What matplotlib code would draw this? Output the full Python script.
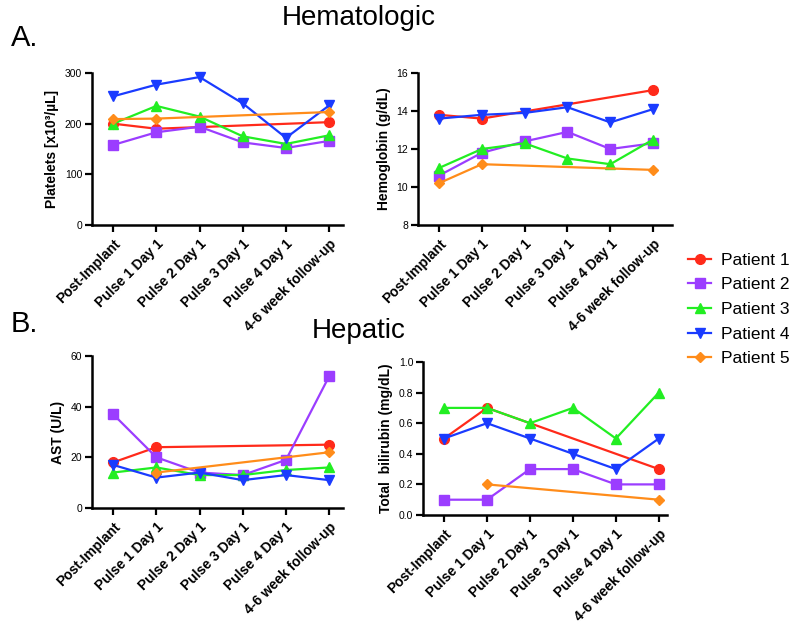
import numpy as np
import matplotlib
matplotlib.use("Agg")
import matplotlib.pyplot as plt

plt.rcParams['font.family'] = ['Liberation Sans', 'DejaVu Sans']

timepoints = ["Post-Implant", "Pulse 1 Day 1", "Pulse 2 Day 1", "Pulse 3 Day 1",
              "Pulse 4 Day 1", "4-6 week follow-up"]
patients = ["Patient 1", "Patient 2", "Patient 3", "Patient 4", "Patient 5"]
nan = np.nan

platelets = {
    "Patient 1": [200, 190, nan, nan, nan, 203],
    "Patient 2": [158, 183, 194, 163, 152, 166],
    "Patient 3": [200, 235, 214, 175, 160, 177],
    "Patient 4": [254, 277, 292, 240, 172, 236],
    "Patient 5": [209, 210, nan, nan, nan, 223],
}
hemoglobin = {
    "Patient 1": [13.8, 13.6, nan, nan, nan, 15.1],
    "Patient 2": [10.6, 11.8, 12.4, 12.9, 12.0, 12.3],
    "Patient 3": [11.0, 12.0, 12.3, 11.5, 11.2, 12.5],
    "Patient 4": [13.6, 13.8, 13.9, 14.2, 13.4, 14.1],
    "Patient 5": [10.2, 11.2, nan, nan, nan, 10.9],
}
ast = {
    "Patient 1": [18, 24, nan, nan, nan, 25],
    "Patient 2": [37, 20, 14, 13, 19, 52],
    "Patient 3": [14, 16, 13, 13, 15, 16],
    "Patient 4": [17, 12, 14, 11, 13, 11],
    "Patient 5": [nan, 14, nan, nan, nan, 22],
}
bilirubin = {
    "Patient 1": [0.5, 0.7, nan, nan, nan, 0.3],
    "Patient 2": [0.1, 0.1, 0.3, 0.3, 0.2, 0.2],
    "Patient 3": [0.7, 0.7, 0.6, 0.7, 0.5, 0.8],
    "Patient 4": [0.5, 0.6, 0.5, 0.4, 0.3, 0.5],
    "Patient 5": [nan, 0.2, nan, nan, nan, 0.1],
}

colors = {"Patient 1": "#FF2A1A", "Patient 2": "#9B3DFF", "Patient 3": "#22EE22",
          "Patient 4": "#1A3BFF", "Patient 5": "#FF8C1A"}
markers = {"Patient 1": ("o", 7), "Patient 2": ("s", 7), "Patient 3": ("^", 7),
           "Patient 4": ("v", 7), "Patient 5": ("D", 5)}

W, H = 795, 623
fig = plt.figure(figsize=(W / 100, H / 100), dpi=100)


def px_axes(l, r, t, b):
    return fig.add_axes([l / W, 1 - b / H, (r - l) / W, (b - t) / H])


def draw(ax, data, ylim, yticks, ylabel, xlim, fmt=None):
    x = np.arange(len(timepoints))
    for p in patients:
        y = np.array(data[p], dtype=float)
        m = ~np.isnan(y)
        mk, ms = markers[p]
        ax.plot(x[m], y[m], color=colors[p], marker=mk, markersize=ms, lw=1.6,
                label=p, clip_on=False, zorder=3)
    ax.set_xlim(*xlim)
    ax.set_ylim(*ylim)
    ax.set_yticks(yticks)
    if fmt:
        ax.set_yticklabels([fmt.format(v) for v in yticks])
    ax.set_xticks(x)
    ax.set_xticklabels(timepoints, rotation=45, ha="right", rotation_mode="anchor",
                       fontweight="bold", fontsize=10)
    for s in ("top", "right"):
        ax.spines[s].set_visible(False)
    for s in ("left", "bottom"):
        ax.spines[s].set_linewidth(1.8)
    ax.tick_params(axis="both", width=1.6, length=5, direction="out")
    ax.tick_params(axis="y", labelsize=7.5, pad=2)
    ax.set_ylabel(ylabel, fontweight="bold", fontsize=10, labelpad=4)


ax1 = px_axes(92, 343, 73, 225)
draw(ax1, platelets, (0, 300), [0, 100, 200, 300], "Platelets [x10³/µL]", (-0.49, 5.32))
ax2 = px_axes(418, 672, 73, 225)
draw(ax2, hemoglobin, (8, 16), [8, 10, 12, 14, 16], "Hemoglobin (g/dL)", (-0.49, 5.44))
ax3 = px_axes(92, 343, 356, 508)
draw(ax3, ast, (0, 60), [0, 20, 40, 60], "AST (U/L)", (-0.49, 5.32))
ax4 = px_axes(423, 667, 362, 515)
draw(ax4, bilirubin, (0, 1.0), [0, 0.2, 0.4, 0.6, 0.8, 1.0], "Total  bilirubin (mg/dL)",
     (-0.49, 5.19), fmt="{:.1f}")

fig.text(359 / W, 1 - 18 / H, "Hematologic", ha="center", va="center", fontsize=20)
fig.text(359 / W, 1 - 331 / H, "Hepatic", ha="center", va="center", fontsize=20)
fig.text(11 / W, 1 - 38 / H, "A.", ha="left", va="center", fontsize=21)
fig.text(11 / W, 1 - 324 / H, "B.", ha="left", va="center", fontsize=21)

handles, labels = ax1.get_legend_handles_labels()
fig.legend(handles, labels, loc="center left", bbox_to_anchor=(688 / W, 1 - 309.5 / H),
           frameon=False, fontsize=12.5, handlelength=1.35, labelspacing=0.55,
           handletextpad=0.55, borderpad=0, borderaxespad=0)

fig.savefig("out.png", dpi=100)
